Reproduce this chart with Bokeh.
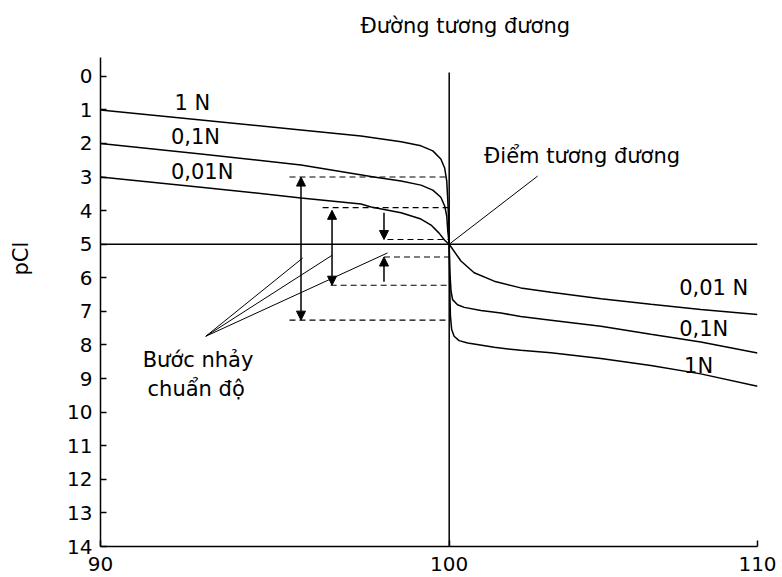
import numpy as np
from bokeh.plotting import figure
from bokeh.models import (Range1d, FixedTicker, LinearAxis, Label, Arrow, Title,
                          NormalHead, Span, ColumnDataSource)
from bokeh.embed import file_html
from bokeh.resources import INLINE

# ---------------- data ----------------
x_tick_values = [90, 100, 110]
x_tick_labels = ["90", "100", "110"]
y_tick_values = list(range(0, 15))

eq_pct = 100.0        # equivalence point (% titrated)
eq_pcl = 5.0          # pCl at equivalence

# 1 N curve
n1_left_x = [90, 92.88, 95.75, 97.47, 98.62, 99.19, 99.53, 99.76, 99.87, 99.93, 99.96, 99.99, 100]
n1_left_y = [1.0, 1.30, 1.60, 1.78, 1.95, 2.07, 2.22, 2.46, 2.73, 3.12, 3.70, 4.45, 5.0]
n1_right_x = [100, 100.02, 100.04, 100.08, 100.16, 100.32, 100.60, 101.46, 102.32, 103.30, 104.92, 106.54, 108.16, 110]
n1_right_y = [5.0, 6.40, 7.14, 7.54, 7.74, 7.87, 7.94, 8.07, 8.16, 8.23, 8.40, 8.61, 8.86, 9.23]

# 0,1 N curve
n01_left_x = [90, 92.88, 95.75, 97.84, 98.62, 99.19, 99.53, 99.76, 99.87, 99.93, 99.96, 100]
n01_left_y = [2.0, 2.31, 2.64, 3.00, 3.12, 3.24, 3.39, 3.60, 3.86, 4.16, 4.61, 5.0]
n01_right_x = [100, 100.02, 100.06, 100.11, 100.27, 100.49, 101.03, 101.68, 102.32, 103.30, 104.92, 106.54, 108.16, 110]
n01_right_y = [5.0, 5.80, 6.40, 6.65, 6.80, 6.88, 6.97, 7.05, 7.15, 7.26, 7.44, 7.68, 7.91, 8.24]

# 0,01 N curve
n001_left_x = [90, 92.88, 95.75, 97.47, 97.76, 98.62, 99.19, 99.48, 99.71, 99.87, 100]
n001_left_y = [3.0, 3.30, 3.62, 3.80, 3.89, 4.06, 4.25, 4.43, 4.67, 4.88, 5.0]
n001_right_x = [100, 100.38, 100.81, 101.46, 102.32, 103.30, 104.92, 106.54, 108.16, 110]
n001_right_y = [5.0, 5.50, 5.85, 6.10, 6.30, 6.43, 6.62, 6.79, 6.94, 7.09]

# dashed guide levels (pCl) and where they start (% titrated)
dash_levels = [3.0, 3.91, 4.86, 5.38, 6.22, 7.26]
dash_start = [95.42, 96.37, 98.23, 98.13, 96.60, 95.42]

# titration-jump arrows
dbl_arrow_x = [95.75, 96.64]
dbl_arrow_top = [3.0, 3.99]
dbl_arrow_bottom = [7.26, 6.22]
sgl_arrow_x = [98.13, 98.13]
sgl_arrow_from = [4.06, 6.12]
sgl_arrow_to = [4.86, 5.38]

# leader lines for "Bước nhảy chuẩn độ"
leader_origin = (93.02, 7.74)
leader_end_x = [95.80, 96.64, 98.23]
leader_end_y = [5.41, 5.33, 5.26]

# leader for "Điểm tương đương" (right branch coordinates)
eq_leader_end = (102.87, 2.97)

vline_top = -0.11

# ---------------- layout ----------------
FONT = "DejaVu Sans"
FS = "20px"
FS_T = "21px"
frac_100 = 348.8 / 657.2              # where 100 % sits along the frame
left_end = 90 + 10 / frac_100
right_start = 110 - 10 / (1 - frac_100)

p = figure(width=782, height=577, output_backend="svg", toolbar_location=None,
           x_range=Range1d(90, left_end), y_range=Range1d(14, -0.56),
           x_axis_type=None, y_axis_type=None,
           min_border_left=100, min_border_right=25, min_border_top=57, min_border_bottom=31)
p.extra_x_ranges = {"right": Range1d(right_start, 110)}
p.outline_line_color = None
p.background_fill_color = "white"
p.border_fill_color = "white"

tick_pos = [90, 100, left_end]
xaxis = LinearAxis(ticker=FixedTicker(ticks=tick_pos, minor_ticks=[]),
                   major_label_overrides={t: l for t, l in zip(tick_pos, x_tick_labels)})
yaxis = LinearAxis(ticker=FixedTicker(ticks=y_tick_values, minor_ticks=[]))
for ax in (xaxis, yaxis):
    ax.axis_line_color = "black"
    ax.axis_line_width = 1.5
    ax.major_tick_in = 6
    ax.major_tick_out = 0
    ax.major_tick_line_width = 1.5
    ax.major_tick_line_color = "black"
    ax.minor_tick_line_color = None
    ax.major_label_text_font = FONT
    ax.major_label_text_font_size = FS
    ax.major_label_text_color = "black"
xaxis.major_label_standoff = 10
yaxis.major_label_standoff = 8
p.add_layout(xaxis, "below")
p.add_layout(yaxis, "left")

# titles outside the frame (a thin spacer puts each title at its place)
p.add_layout(Title(text=" ", text_font_size="1px", standoff=12), "above")
top_title = Title(text="Đường tương đương", align="left", offset=260, standoff=10,
                  text_font=FONT, text_font_size=FS_T, text_font_style="normal",
                  text_color="black")
p.add_layout(top_title, "above")
p.add_layout(Title(text=" ", text_font_size="1px", standoff=24), "left")
left_title = Title(text="pCl", align="left", offset=271, standoff=10,
                   text_font=FONT, text_font_size=FS_T, text_font_style="normal",
                   text_color="black")
p.add_layout(left_title, "left")

LW = 1.5
# curves
for lx, ly, rx, ry in [(n1_left_x, n1_left_y, n1_right_x, n1_right_y),
                       (n01_left_x, n01_left_y, n01_right_x, n01_right_y),
                       (n001_left_x, n001_left_y, n001_right_x, n001_right_y)]:
    p.line(lx, ly, line_color="black", line_width=LW)
    p.line(rx, ry, line_color="black", line_width=LW, x_range_name="right")

# equivalence lines
p.segment(x0=[eq_pct], y0=[vline_top], x1=[eq_pct], y1=[14], line_color="black", line_width=LW)
p.add_layout(Span(location=eq_pcl, dimension="width", line_color="black", line_width=LW))

# dashed guides
p.segment(x0=dash_start, y0=dash_levels, x1=[eq_pct] * len(dash_levels), y1=dash_levels,
          line_color="black", line_width=1.1, line_dash="6 4")

# arrows
dbl_src = ColumnDataSource(dict(x=dbl_arrow_x, y0=dbl_arrow_top, y1=dbl_arrow_bottom))
p.add_layout(Arrow(start=NormalHead(size=9, fill_color="black", line_color="black"),
                   end=NormalHead(size=9, fill_color="black", line_color="black"),
                   x_start="x", y_start="y0", x_end="x", y_end="y1", source=dbl_src,
                   line_color="black", line_width=LW))
sgl_src = ColumnDataSource(dict(x=sgl_arrow_x, y0=sgl_arrow_from, y1=sgl_arrow_to))
p.add_layout(Arrow(end=NormalHead(size=9, fill_color="black", line_color="black"),
                   x_start="x", y_start="y0", x_end="x", y_end="y1", source=sgl_src,
                   line_color="black", line_width=LW))

# leaders
p.segment(x0=[leader_origin[0]] * 3, y0=[leader_origin[1]] * 3, x1=leader_end_x, y1=leader_end_y,
          line_color="black", line_width=1)
p.segment(x0=[eq_pct], y0=[eq_pcl], x1=[eq_leader_end[0]], y1=[eq_leader_end[1]],
          line_color="black", line_width=1, x_range_name="right")

# texts
def lab(x, y, text, rng="default", align="left"):
    p.add_layout(Label(x=x, y=y, text=text, x_range_name=rng, text_font=FONT,
                       text_font_size=FS_T, text_color="black", text_align=align,
                       text_baseline="alphabetic"))

lab(92.12, 0.79, "1 N")
lab(92.02, 1.81, "0,1N")
lab(92.02, 2.84, "0,01N")
lab(107.46, 6.29, "0,01 N", rng="right")
lab(107.46, 7.53, "0,1N", rng="right")
lab(107.62, 8.63, "1N", rng="right")
lab(101.13, 2.37, "Điểm tương đương", rng="right")
lab(91.21, 8.46, "Bước nhảy")
lab(91.35, 9.32, "chuẩn độ")

open("out.html", "w").write(file_html(p, INLINE))
